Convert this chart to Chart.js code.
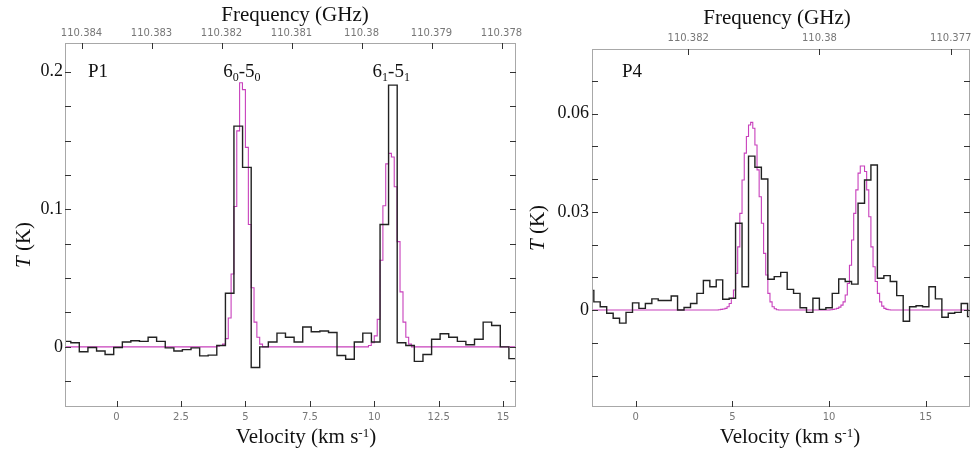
<!DOCTYPE html>
<html>
<head>
<meta charset="utf-8">
<script src="https://cdn.jsdelivr.net/npm/chart.js@4"></script>
<style>
html,body{margin:0;padding:0;background:#fff;}
#wrap{position:relative;width:975px;height:449px;overflow:hidden;background:#fff;}
canvas{position:absolute;top:0;}
#c1{left:0;}
#c2{left:520px;}
</style>
</head>
<body>
<div id="wrap">
<canvas id="c1" width="530" height="449"></canvas>
<canvas id="c2" width="455" height="449"></canvas>
</div>
<script>
// ---------- constants ----------
const C_KMS = 299792.458;
const REST_GHZ = 110.3835;

// ---------- Panel P1 : observed spectrum (channel centres, km/s ; T in K) ----------
const p1Vel = [-1.94,-1.61,-1.28,-0.94,-0.61,-0.28,0.06,0.39,0.72,1.06,1.39,1.72,2.06,2.39,2.72,3.06,3.39,3.72,4.06,
  4.39,4.72,5.06,5.39,5.72,6.06,6.39,6.72,7.06,7.39,7.72,8.06,8.39,8.72,9.06,9.39,9.72,10.06,10.39,10.72,11.06,11.39,
  11.72,12.06,12.39,12.72,13.06,13.39,13.72,14.06,14.39,14.72,15.06,15.39];
const p1T = [0.004,0.003,-0.0035,-0.0005,-0.003,-0.0055,-0.0005,0.0035,0.0045,0.004,0.007,0.004,-0.0007,-0.003,-0.002,-0.0007,-0.0065,-0.006,0.001,
  0.039,0.1605,0.1305,-0.015,0.0,0.0035,0.010,0.007,0.0035,0.0145,0.011,0.0115,0.0105,-0.0063,-0.009,0.0035,0.010,0.0035,0.089,0.1903,0.003,0.001,
  -0.0105,-0.0055,0.0055,0.0095,0.007,0.004,0.0015,0.0055,0.018,0.0155,0.0,-0.0085];
// Panel P1 : model spectrum
const p1ModelVel = [-3,3.83,3.94,4.06,4.17,4.28,4.39,4.50,4.61,4.72,4.83,4.94,5.06,5.17,5.28,5.39,5.50,5.61,5.72,
  9.72,9.83,9.94,10.06,10.17,10.28,10.39,10.50,10.61,10.72,10.83,10.94,11.06,11.17,11.28,11.39,11.50,16];
const p1ModelT = [0,0,0.0005,0.001,0.002,0.006,0.021,0.053,0.102,0.157,0.192,0.187,0.145,0.089,0.043,0.018,0.007,0.002,0,
  0,0.001,0.003,0.008,0.02,0.063,0.1026,0.133,0.1407,0.138,0.1164,0.0765,0.040,0.018,0.007,0.002,0,0];
// Panel P1 : axes
const p1VelTicks = [0,2.5,5,7.5,10,12.5,15];
const p1VelLabels = ['0','2.5','5','7.5','10','12.5','15'];
const p1FreqTicks = [110.384,110.383,110.382,110.381,110.38,110.379,110.378];
const p1FreqLabels = ['110.384','110.383','110.382','110.381','110.38','110.379','110.378'];
const p1TTicks = [-0.025,0,0.025,0.05,0.075,0.1,0.125,0.15,0.175,0.2];
const p1TLabels = ['','0','','','','0.1','','','','0.2'];
const p1LineVel = [4.86,10.66];
const p1LineNames = [['6','0','5','0'],['6','1','5','1']];

// ---------- Panel P4 : observed spectrum ----------
const p4Vel = [-2.33,-2.0,-1.67,-1.33,-1.0,-0.67,-0.33,0.0,0.33,0.67,1.0,1.33,1.67,2.0,2.33,2.67,3.0,3.33,3.67,4.0,4.33,4.67,5.0,
  5.33,5.67,6.0,6.33,6.67,7.0,7.33,7.67,8.0,8.33,8.67,9.0,9.33,9.67,10.0,10.33,10.67,11.0,11.33,11.67,12.0,12.33,12.67,13.0,
  13.33,13.67,14.0,14.33,14.67,15.0,15.33,15.67,16.0,16.33,16.67,17.0,17.33];
const p4T = [0.006,0.0025,0.001,-0.001,-0.0025,-0.004,-0.0007,0.0022,0.0005,0.002,0.0034,0.0029,0.0029,0.0043,0.0,0.0008,0.002,0.0051,0.009,0.0071,0.0092,0.0033,0.0036,
  0.0265,0.0071,0.047,0.0436,0.040,0.0094,0.0102,0.0115,0.0063,0.0051,0.0007,-0.0007,0.0036,0.0002,0.0007,0.0051,0.0095,0.0087,0.0079,0.0326,0.0397,0.0443,
  0.0097,0.0105,0.0087,0.0044,-0.0034,0.001,0.0013,0.001,0.0071,0.0034,-0.0022,-0.001,-0.0007,0.002,-0.002];
// Panel P4 : model spectrum
const p4ModelVel = [-3,4.11,4.22,4.33,4.44,4.56,4.67,4.78,4.89,5.0,5.11,5.22,5.33,5.44,5.56,5.67,5.78,5.89,6.0,6.11,6.22,6.33,6.44,
  6.56,6.67,6.78,6.89,7.0,7.11,7.22,7.33,7.44,
  10.0,10.11,10.22,10.33,10.44,10.56,10.67,10.78,10.89,11.0,11.11,11.22,11.33,11.44,11.56,11.67,11.78,11.89,12.0,12.11,12.22,
  12.33,12.44,12.56,12.67,12.78,12.89,13.0,13.11,13.22,18];
const p4ModelT = [0,0,0,0.0001,0.0002,0.0003,0.0005,0.001,0.002,0.0036,0.0061,0.0112,0.0193,0.0295,0.0397,0.0479,0.053,0.0565,0.0573,0.0555,0.0504,0.0428,0.0346,
  0.0265,0.0173,0.0107,0.0051,0.0025,0.001,0.0004,0.0001,0,
  0,0.0001,0.0002,0.0003,0.0005,0.0009,0.0015,0.0025,0.0046,0.0081,0.0137,0.0214,0.0295,0.0367,0.0418,0.044,0.044,0.0423,0.0367,0.0285,0.0193,
  0.0132,0.0087,0.0051,0.0025,0.0012,0.0005,0.0002,0.0001,0,0];
// Panel P4 : axes
const p4VelTicks = [0,5,10,15];
const p4VelLabels = ['0','5','10','15'];
const p4FreqTicks = [110.3825,110.38,110.3775];
const p4FreqLabels = ['110.382','110.38','110.377'];
const p4TTicks = [-0.02,-0.01,0,0.01,0.02,0.03,0.04,0.05,0.06,0.07];
const p4TLabels = ['','','0','','','0.03','','','0.06',''];

// ---------- styling ----------
const SERIF = '"Liberation Serif", "Times New Roman", serif';
const SANS = '"DejaVu Sans", Verdana, sans-serif';
const BLACK_LINE = '#222222';
const MAGENTA = '#c840bc';
const TICK_GRAY = '#777777';
const BOX_GRAY = '#a8a8a8';

function freqAt(v) { return REST_GHZ * (1 - v / C_KMS); }

// histogram table (channel centres + outer edges) built from the arrays
function histPoints(vel, val) {
  const n = vel.length;
  const pts = [{x: vel[0] - (vel[1] - vel[0]) / 2, y: val[0]}];
  for (let i = 0; i < n; i++) pts.push({x: vel[i], y: val[i]});
  pts.push({x: vel[n - 1] + (vel[n - 1] - vel[n - 2]) / 2, y: val[n - 1]});
  return pts;
}

function richWidth(ctx, segs) {
  let w = 0;
  segs.forEach(s => { ctx.font = s.font; w += ctx.measureText(s.t).width; });
  return w;
}
function drawRich(ctx, segs, x, y, align) {
  const w = richWidth(ctx, segs);
  let cx = align === 'center' ? x - w / 2 : x;
  segs.forEach(s => {
    ctx.font = s.font;
    ctx.fillText(s.t, cx, y + (s.dy || 0));
    cx += ctx.measureText(s.t).width;
  });
}

const decoPlugin = {
  id: 'deco',
  afterDraw(chart, args, o) {
    const ctx = chart.ctx, a = chart.chartArea;
    const sx = chart.scales.x, sx2 = chart.scales.x2, sy = chart.scales.y;
    ctx.save();
    // frame
    ctx.strokeStyle = BOX_GRAY; ctx.lineWidth = 1;
    ctx.strokeRect(a.left + 0.5, a.top + 0.5, a.right - a.left - 1, a.bottom - a.top - 1);
    // inward tick marks
    ctx.strokeStyle = '#333'; ctx.lineWidth = 1;
    ctx.beginPath();
    sx.ticks.forEach(t => { const p = Math.round(sx.getPixelForValue(t.value)) + 0.5; ctx.moveTo(p, a.bottom); ctx.lineTo(p, a.bottom - 6); });
    sx2.ticks.forEach(t => { const p = Math.round(sx2.getPixelForValue(t.value)) + 0.5; ctx.moveTo(p, a.top); ctx.lineTo(p, a.top + 6); });
    sy.ticks.forEach(t => {
      const p = Math.round(sy.getPixelForValue(t.value)) + 0.5;
      ctx.moveTo(a.left, p); ctx.lineTo(a.left + 6, p);
      ctx.moveTo(a.right, p); ctx.lineTo(a.right - 6, p);
    });
    ctx.stroke();
    // texts
    ctx.fillStyle = '#111'; ctx.textBaseline = 'alphabetic'; ctx.textAlign = 'left';
    const F21 = '21px ' + SERIF, F19 = '19px ' + SERIF, F12 = '12px ' + SERIF, F13 = '13px ' + SERIF;
    drawRich(ctx, [{t: 'Frequency (GHz)', font: F21}], o.freqTitle[0], o.freqTitle[1], 'center');
    drawRich(ctx, [{t: 'Velocity (km s', font: F21}, {t: '-1', font: F13, dy: -6}, {t: ')', font: F21}], o.velTitle[0], o.velTitle[1], 'center');
    ctx.save();
    ctx.translate(o.tTitle[0], o.tTitle[1]);
    ctx.rotate(-Math.PI / 2);
    drawRich(ctx, [{t: 'T', font: 'italic 21px ' + SERIF}, {t: ' (K)', font: F21}], 0, 0, 'center');
    ctx.restore();
    drawRich(ctx, [{t: o.tag, font: F19}], o.tagPos[0], o.tagPos[1], 'left');
    if (o.lineVel) {
      o.lineVel.forEach((v, i) => {
        const nm = o.lineNames[i];
        const px = sx.getPixelForValue(v);
        drawRich(ctx, [
          {t: nm[0], font: F19}, {t: nm[1], font: F12, dy: 3.5},
          {t: '-' + nm[2], font: F19}, {t: nm[3], font: F12, dy: 3.5}
        ], px, o.lineY, 'center');
      });
    }
    ctx.restore();
  }
};

function makePanel(id, p) {
  const black = histPoints(p.vel, p.T);
  const model = p.mVel.map((v, i) => ({x: v, y: p.mT[i]}));
  const xTickFont = {family: SANS, size: 10};
  return new Chart(document.getElementById(id), {
    type: 'line',
    data: {
      datasets: [
        {data: model, borderColor: MAGENTA, borderWidth: 1.1, stepped: 'middle', pointRadius: 0, fill: false, order: 2},
        {data: black, borderColor: BLACK_LINE, borderWidth: 1.4, stepped: 'middle', pointRadius: 0, fill: false, order: 1}
      ]
    },
    options: {
      responsive: false, animation: false, devicePixelRatio: 1,
      layout: {padding: {left: 0, right: p.padRight, top: 0, bottom: 0}},
      plugins: {legend: {display: false}, tooltip: {enabled: false}, deco: p.deco},
      elements: {line: {tension: 0, borderJoinStyle: 'miter'}},
      scales: {
        x: {
          type: 'linear', position: 'bottom', min: p.xMin, max: p.xMax,
          afterBuildTicks: s => { s.ticks = p.velTicks.map(v => ({value: v})); },
          ticks: {callback: (v, i) => p.velLabels[i], autoSkip: false, maxRotation: 0, minRotation: 0,
                  padding: 4, color: TICK_GRAY, font: xTickFont},
          grid: {display: false, drawTicks: false}, border: {display: false},
          afterFit: s => { s.height = p.bottomH; s.paddingLeft = 0; s.paddingRight = 0; }
        },
        x2: {
          type: 'linear', axis: 'x', position: 'top', reverse: true,
          min: freqAt(p.xMax), max: freqAt(p.xMin),
          afterBuildTicks: s => { s.ticks = p.freqTicks.map(v => ({value: v})); },
          ticks: {callback: (v, i) => p.freqLabels[i], autoSkip: false, maxRotation: 0, minRotation: 0,
                  padding: p.topPad, color: TICK_GRAY, font: xTickFont},
          grid: {display: false, drawTicks: false}, border: {display: false},
          afterFit: s => { s.height = p.topH; s.paddingLeft = 0; s.paddingRight = 0; }
        },
        y: {
          type: 'linear', position: 'left', min: p.yMin, max: p.yMax,
          afterBuildTicks: s => { s.ticks = p.tTicks.map(v => ({value: v})); },
          ticks: {callback: (v, i) => p.tLabels[i], autoSkip: false, padding: p.yPad, color: '#111',
                  font: {family: SERIF, size: 18}},
          grid: {display: false, drawTicks: false}, border: {display: false},
          afterFit: s => { s.width = p.yW; s.paddingTop = 0; s.paddingBottom = 0; }
        }
      }
    },
    plugins: [decoPlugin]
  });
}

makePanel('c1', {
  vel: p1Vel, T: p1T, mVel: p1ModelVel, mT: p1ModelT,
  xMin: -2, xMax: 15.5, yMin: -0.0437, yMax: 0.2209,
  velTicks: p1VelTicks, velLabels: p1VelLabels,
  freqTicks: p1FreqTicks, freqLabels: p1FreqLabels,
  tTicks: p1TTicks, tLabels: p1TLabels,
  yW: 65, topH: 43, bottomH: 42, padRight: 14, topPad: 4, yPad: 2,
  deco: {freqTitle: [295, 21], velTitle: [306, 443], tTitle: [30, 245], tag: 'P1', tagPos: [88, 77],
         lineVel: p1LineVel, lineNames: p1LineNames, lineY: 77}
});

makePanel('c2', {
  vel: p4Vel, T: p4T, mVel: p4ModelVel, mT: p4ModelT,
  xMin: -2.26, xMax: 17.29, yMin: -0.0296, yMax: 0.0797,
  velTicks: p4VelTicks, velLabels: p4VelLabels,
  freqTicks: p4FreqTicks, freqLabels: p4FreqLabels,
  tTicks: p4TTicks, tLabels: p4TLabels,
  yW: 72, topH: 49, bottomH: 42, padRight: 5, topPad: 5, yPad: 3,
  deco: {freqTitle: [257, 24], velTitle: [270, 443], tTitle: [24, 228], tag: 'P4', tagPos: [102, 77]}
});
</script>
</body>
</html>
